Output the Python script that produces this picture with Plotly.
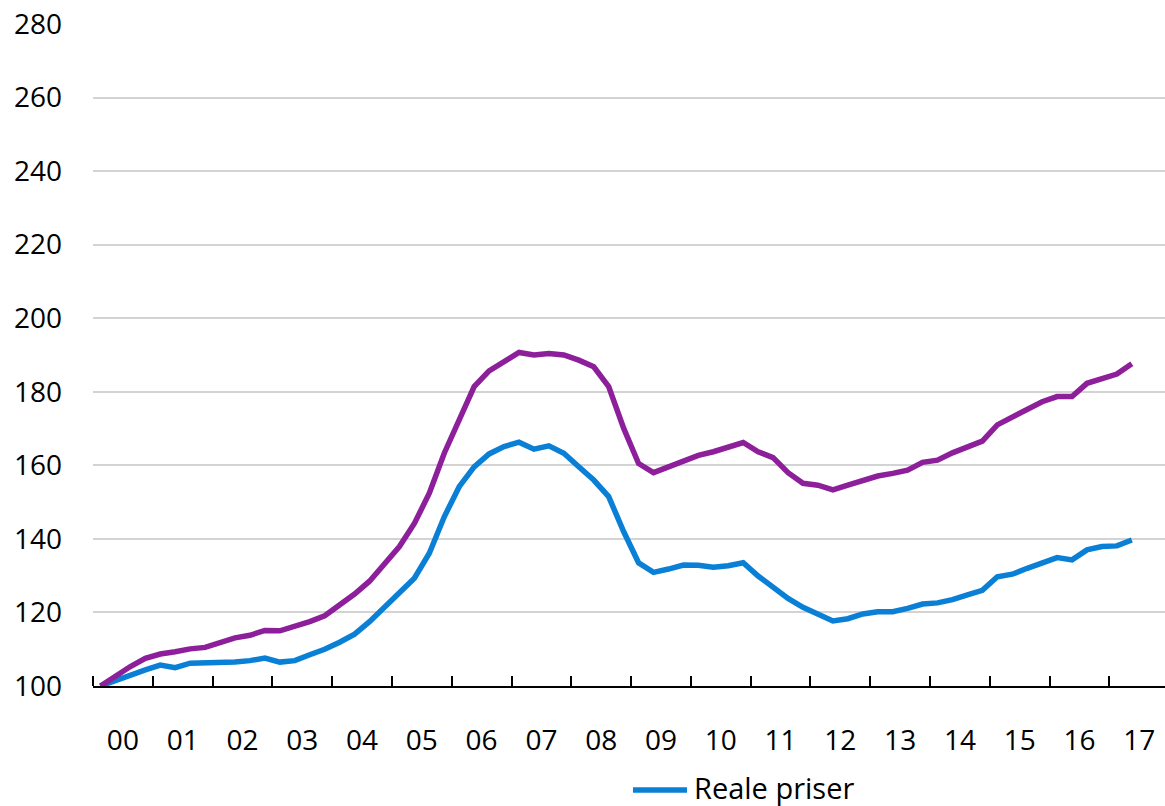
import plotly.graph_objects as go

# Quarterly house price index, 2000 Q1 = 100
start_year = 2000
n_quarters = 70  # 2000 Q1 - 2017 Q2

nominelle_priser = [
    100.0, 102.7, 105.3, 107.5, 108.7, 109.3, 110.1, 110.5, 111.9, 113.1,
    113.8, 115.1, 115.0, 116.1, 117.5, 119.1, 122.0, 125.0, 128.5, 133.4,
    137.9, 144.2, 152.4, 163.3, 172.8, 181.4, 185.7, 188.2, 190.7, 190.0,
    190.4, 190.0, 188.6, 186.8, 181.4, 170.1, 160.5, 158.0, 159.5, 161.3,
    162.7, 163.7, 164.9, 166.2, 163.7, 162.1, 158.0, 155.1, 154.6, 153.3,
    154.6, 156.0, 157.1, 157.8, 158.7, 160.8, 161.4, 163.4, 164.9, 166.6,
    171.0, 173.2, 175.0, 177.3, 178.7, 178.7, 182.3, 183.6, 184.8, 187.6,
]

reale_priser = [
    100.0, 101.6, 103.2, 104.4, 105.7, 105.0, 106.2, 106.2, 106.5, 106.5,
    106.9, 107.6, 106.5, 106.9, 108.5, 110.0, 111.9, 114.1, 117.5, 121.4,
    125.4, 129.3, 136.1, 146.0, 154.2, 159.6, 163.1, 165.1, 166.3, 164.4,
    165.3, 163.3, 159.6, 156.0, 151.5, 142.0, 133.5, 130.9, 131.8, 132.9,
    132.8, 132.3, 132.7, 133.5, 129.9, 127.0, 123.8, 121.4, 119.5, 117.7,
    118.3, 119.6, 120.2, 120.2, 121.1, 122.3, 122.6, 123.5, 124.8, 126.0,
    129.7, 130.4, 132.0, 133.6, 134.9, 134.3, 137.0, 137.9, 138.1, 139.7,
]

year_labels = ["00", "01", "02", "03", "04", "05", "06", "07", "08",
               "09", "10", "11", "12", "13", "14", "15", "16", "17"]
y_ticks = [100, 120, 140, 160, 180, 200, 220, 240, 260, 280]

# each quarter is plotted at the middle of its period
x_pos = [start_year + (i + 0.5) / 4 for i in range(n_quarters)]
year_starts = [start_year + k for k in range(len(year_labels))]
year_mids = [y + 0.5 for y in year_starts]

BLUE = "#0a7fd6"
PURPLE = "#8d1f9b"
FONT = "Open Sans"
LINE_W = 5.5

fig = go.Figure()
fig.add_trace(go.Scatter(
    x=x_pos, y=reale_priser, mode="lines", name="Reale priser",
    line=dict(color=BLUE, width=LINE_W), showlegend=False,
))
fig.add_trace(go.Scatter(
    x=x_pos, y=nominelle_priser, mode="lines", name="Nominelle priser",
    line=dict(color=PURPLE, width=LINE_W), showlegend=False,
))

# key for the real-price series, below the axis labels
key_y = -0.157
fig.add_shape(type="line", xref="paper", yref="paper",
              x0=0.5037, x1=0.5541, y0=key_y, y1=key_y,
              line=dict(color=BLUE, width=LINE_W))
fig.add_annotation(xref="paper", yref="paper", x=0.5588, y=key_y + 0.004,
                   xanchor="left", yanchor="middle", showarrow=False,
                   text="Reale priser",
                   font=dict(family=FONT, size=29, color="black"))

fig.update_layout(
    width=1165, height=806,
    margin=dict(l=93, r=0, t=24, b=120, autoexpand=False),
    paper_bgcolor="white", plot_bgcolor="white",
    font=dict(family=FONT, size=28, color="black"),
    showlegend=False,
    xaxis=dict(
        range=[start_year, start_year + 17.93],
        tickmode="array", tickvals=year_mids, ticktext=year_labels,
        ticks="", showgrid=False, zeroline=False,
        showline=True, linecolor="black", linewidth=1.5,
        ticklabelstandoff=29,
        tickfont=dict(family=FONT, size=28, color="black"),
        minor=dict(tickmode="array", tickvals=year_starts, ticks="inside",
                   ticklen=10, tickwidth=1.5, tickcolor="black", showgrid=False),
    ),
    yaxis=dict(
        range=[100, 280], tickmode="array", tickvals=y_ticks,
        showgrid=True, gridcolor="#d3d3d3", gridwidth=1.5,
        zeroline=False, showline=False, ticks="",
        ticklabelstandoff=30,
        tickfont=dict(family=FONT, size=28, color="black"),
    ),
)

fig.write_html("out.html")
